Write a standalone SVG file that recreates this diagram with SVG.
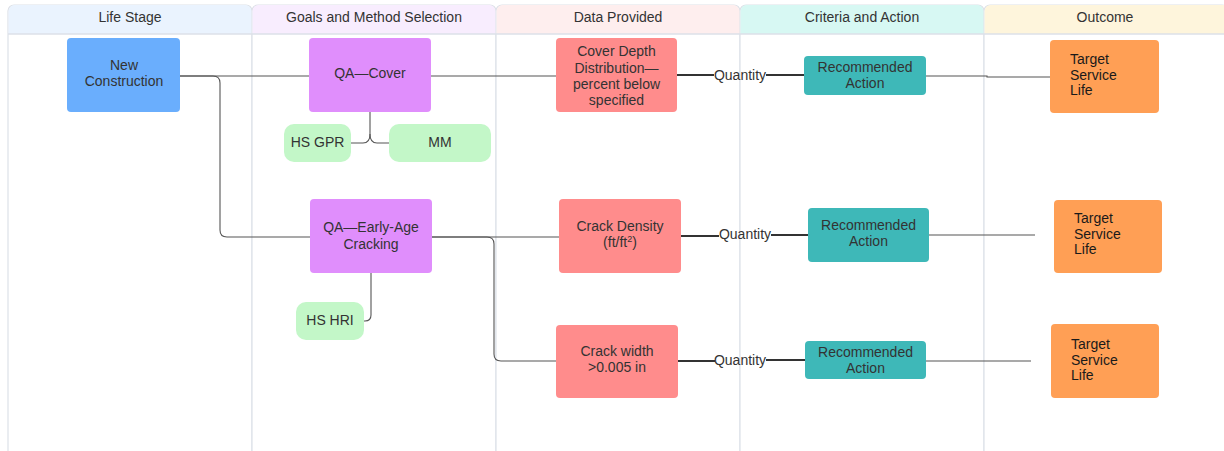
<svg xmlns="http://www.w3.org/2000/svg" width="1224" height="451" viewBox="0 0 1224 451">
  <style>
    text { font-family: "Liberation Sans", Arial, sans-serif; font-size: 14px; fill: #333333; }
    .hdr { text-anchor: middle; font-size: 14px; }
    .c { text-anchor: middle; }
    .lane { fill: #ffffff; stroke: #dde1e8; stroke-width: 1.2; }
    .edge { fill: none; stroke: #555555; stroke-width: 1.1; }
    .edge-q { fill: none; stroke: #333333; stroke-width: 1.8; }
    .blue { fill: #6aaefd; }
    .purple { fill: #e08efc; }
    .green { fill: #c3f7c8; }
    .red { fill: #ff8c8c; }
    .teal { fill: #3eb8b8; }
    .orange { fill: #ff9f55; }
    .tgt { fill: #1a1a1a; }
  </style>

  <rect width="1224" height="451" fill="#ffffff"/>

  <!-- swimlanes -->
  <g id="lanes">
    <rect class="lane" x="8" y="5" width="244" height="460" rx="6"/>
    <rect class="lane" x="252" y="5" width="244" height="460" rx="6"/>
    <rect class="lane" x="496" y="5" width="244" height="460" rx="6"/>
    <rect class="lane" x="740" y="5" width="244" height="460" rx="6"/>
    <rect class="lane" x="984" y="5" width="244" height="460" rx="6"/>
    <path d="M8.6,34 V11 a6,6 0 0 1 6,-6 H245.4 a6,6 0 0 1 6,6 V34 Z" fill="#eaf3fe"/>
    <path d="M252.6,34 V11 a6,6 0 0 1 6,-6 H489.4 a6,6 0 0 1 6,6 V34 Z" fill="#f8edfe"/>
    <path d="M496.6,34 V11 a6,6 0 0 1 6,-6 H733.4 a6,6 0 0 1 6,6 V34 Z" fill="#feeeee"/>
    <path d="M740.6,34 V11 a6,6 0 0 1 6,-6 H977.4 a6,6 0 0 1 6,6 V34 Z" fill="#d7f8f3"/>
    <path d="M984.6,34 V11 a6,6 0 0 1 6,-6 H1224 V34 Z" fill="#fef5dc"/>
    <line x1="8" y1="34" x2="1224" y2="34" stroke="#dde1e8" stroke-width="1.5"/>
    <text class="hdr" x="130" y="22">Life Stage</text>
    <text class="hdr" x="374" y="22">Goals and Method Selection</text>
    <text class="hdr" x="618" y="22">Data Provided</text>
    <text class="hdr" x="862" y="22">Criteria and Action</text>
    <text class="hdr" x="1105" y="22">Outcome</text>
  </g>

  <!-- connectors -->
  <g id="connectors">
    <path class="edge" d="M180,76 H309"/>
    <path class="edge" d="M180,76 H213 Q220,76 220,83 V230 Q220,237 227,237 H310"/>
    <path class="edge" d="M431,76 H556"/>
    <path class="edge" d="M370,112 V134 Q370,143 363,143 H351"/>
    <path class="edge" d="M370,134 Q370,143 377,143 H389"/>
    <path class="edge" d="M371,273 V315 Q371,321 365,321 H364"/>
    <path class="edge" d="M432,237 H559"/>
    <path class="edge" d="M432,237 H487 Q494,237 494,244 V354 Q494,361 501,361 H556"/>
    <path class="edge-q" d="M677,75 H714"/>
    <path class="edge-q" d="M766,75 H804"/>
    <path class="edge" d="M926,76 H987 V77 H1050"/>
    <path class="edge-q" d="M681,236 H719"/>
    <path class="edge-q" d="M771,235 H808"/>
    <path class="edge" d="M929,235 H1035"/>
    <path class="edge-q" d="M678,361 H715"/>
    <path class="edge-q" d="M766,360 H805"/>
    <path class="edge" d="M926,361 H1031"/>
    <text class="c" x="740" y="80">Quantity</text>
    <text class="c" x="745" y="239">Quantity</text>
    <text class="c" x="740" y="365">Quantity</text>
  </g>

  <!-- life stage -->
  <g id="new-construction">
    <rect class="blue" x="67" y="38" width="113" height="74" rx="4"/>
    <text class="c" x="124" y="70">New</text>
    <text class="c" x="124" y="86">Construction</text>
  </g>

  <!-- goals and method selection -->
  <g id="qa-cover">
    <rect class="purple" x="309" y="38" width="122" height="74" rx="4"/>
    <text class="c" x="370" y="78">QA—Cover</text>
  </g>
  <g id="hs-gpr">
    <rect class="green" x="284" y="124" width="67" height="38" rx="10"/>
    <text class="c" x="317.5" y="147">HS GPR</text>
  </g>
  <g id="mm">
    <rect class="green" x="389" y="124" width="102" height="38" rx="10"/>
    <text class="c" x="440" y="147">MM</text>
  </g>
  <g id="qa-early-age">
    <rect class="purple" x="310" y="199" width="122" height="74" rx="4"/>
    <text class="c" x="371" y="232">QA—Early-Age</text>
    <text class="c" x="371" y="249">Cracking</text>
  </g>
  <g id="hs-hri">
    <rect class="green" x="296" y="302" width="68" height="38" rx="10"/>
    <text class="c" x="330" y="325">HS HRI</text>
  </g>

  <!-- data provided -->
  <g id="cover-depth">
    <rect class="red" x="556" y="38" width="121" height="74" rx="4"/>
    <text class="c" x="616.5" y="56">Cover Depth</text>
    <text class="c" x="616.5" y="73">Distribution—</text>
    <text class="c" x="616.5" y="89">percent below</text>
    <text class="c" x="616.5" y="105">specified</text>
  </g>
  <g id="crack-density">
    <rect class="red" x="559" y="199" width="122" height="74" rx="4"/>
    <text class="c" x="620" y="231">Crack Density</text>
    <text class="c" x="620" y="247">(ft/ft<tspan font-size="9" dy="-5">2</tspan><tspan dy="5">)</tspan></text>
  </g>
  <g id="crack-width">
    <rect class="red" x="556" y="325" width="122" height="73" rx="4"/>
    <text class="c" x="617" y="356">Crack width</text>
    <text class="c" x="617" y="372">&gt;0.005 in</text>
  </g>

  <!-- criteria and action -->
  <g id="action-1">
    <rect class="teal" x="804" y="56" width="122" height="39" rx="4"/>
    <text class="c" x="865" y="72">Recommended</text>
    <text class="c" x="865" y="88">Action</text>
  </g>
  <g id="action-2">
    <rect class="teal" x="808" y="208" width="121" height="54" rx="4"/>
    <text class="c" x="868.5" y="230">Recommended</text>
    <text class="c" x="868.5" y="246">Action</text>
  </g>
  <g id="action-3">
    <rect class="teal" x="805" y="341" width="121" height="38" rx="4"/>
    <text class="c" x="865.5" y="357">Recommended</text>
    <text class="c" x="865.5" y="373">Action</text>
  </g>

  <!-- outcome -->
  <g id="target-1">
    <rect class="orange" x="1050" y="40" width="109" height="73" rx="4"/>
    <text class="tgt" x="1070" y="64">Target</text>
    <text class="tgt" x="1070" y="80">Service</text>
    <text class="tgt" x="1070" y="95">Life</text>
  </g>
  <g id="target-2">
    <rect class="orange" x="1054" y="200" width="108" height="73" rx="4"/>
    <text class="tgt" x="1074" y="223">Target</text>
    <text class="tgt" x="1074" y="239">Service</text>
    <text class="tgt" x="1074" y="254">Life</text>
  </g>
  <g id="target-3">
    <rect class="orange" x="1051" y="324" width="108" height="74" rx="4"/>
    <text class="tgt" x="1071" y="349">Target</text>
    <text class="tgt" x="1071" y="365">Service</text>
    <text class="tgt" x="1071" y="380">Life</text>
  </g>
</svg>
